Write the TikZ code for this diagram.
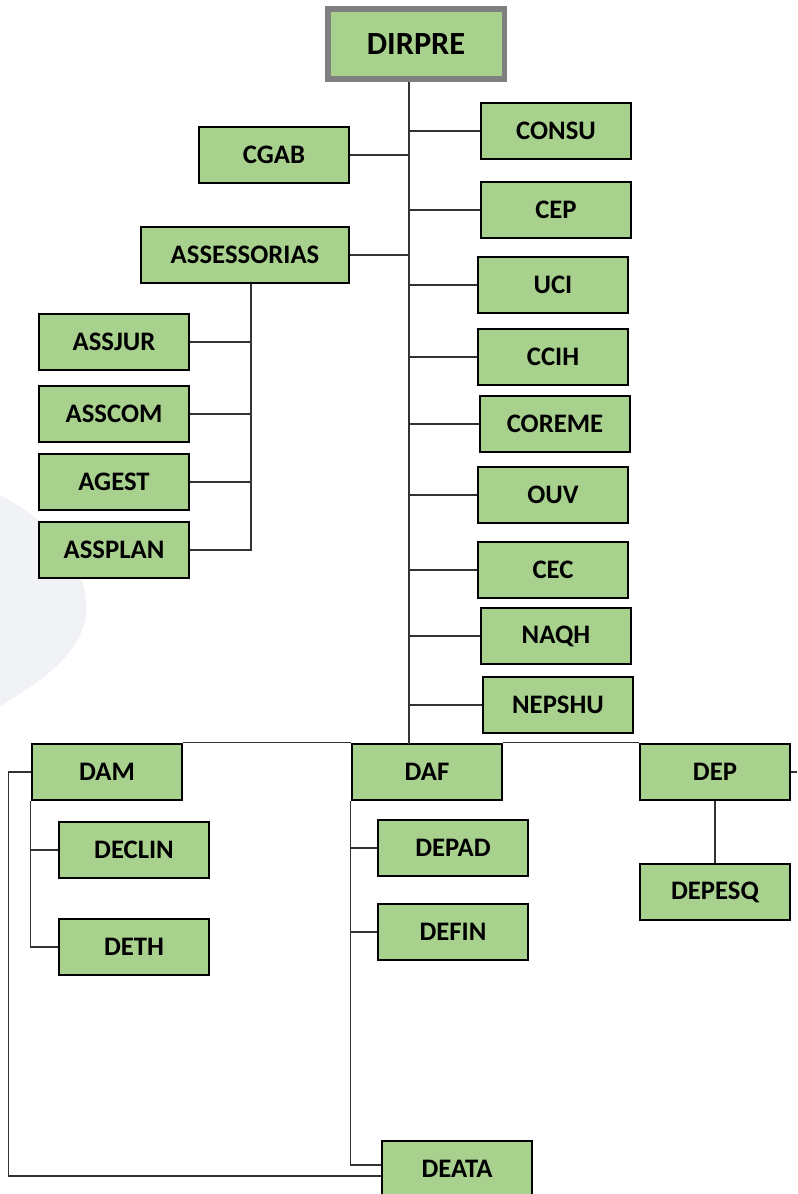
\documentclass[tikz,border=0pt]{standalone}
\usepackage{fontspec}
\setmainfont{Carlito}
\usetikzlibrary{calc}

\definecolor{boxgreen}{HTML}{A9D18E}
\definecolor{blobgray}{HTML}{F1F2F6}

\begin{document}
\begin{tikzpicture}[x=0.025cm, y=-0.025cm,
    unit/.style={draw=black, line width=1.8pt, fill=boxgreen, inner sep=0pt,
      minimum width=3.75cm, minimum height=1.4cm,
      font=\fontsize{19}{22}\selectfont\bfseries},
    link/.style={draw=black!80, line width=0.9pt}]
    \useasboundingbox (0,0) rectangle (797,1194);
    % faint shape in the background
    \fill [blobgray] (0,495) .. controls (55,525) and (88,565) .. (86,612)
      .. controls (84,650) and (45,680) .. (0,706) -- cycle;

    \node [unit, draw=black!50, line width=3.6pt, minimum width=4.4cm,
      minimum height=1.75cm, font=\fontsize{23}{26}\selectfont\bfseries]
      (dirpre) at (416,44) {DIRPRE};
    \coordinate (spine) at (409,82);
    \coordinate (bar) at (409,744);
    \coordinate (edge) at (797,744);

    \node [unit] (cgab) at (274,155) {CGAB};
    \node [unit, minimum width=5.2cm] (assess) at (245,255) {ASSESSORIAS};
    \node [unit] (consu) at (556,131) {CONSU};
    \node [unit] (cep) at (556,210) {CEP};
    \node [unit] (uci) at (553,285) {UCI};
    \node [unit] (ccih) at (553,357) {CCIH};
    \node [unit] (coreme) at (555,424) {COREME};
    \node [unit] (ouv) at (553,495) {OUV};
    \node [unit] (cec) at (553,570) {CEC};
    \node [unit] (naqh) at (556,636) {NAQH};
    \node [unit] (nepshu) at (558,705) {NEPSHU};

    \node [unit] (assjur) at (114,342) {ASSJUR};
    \node [unit] (asscom) at (114,414) {ASSCOM};
    \node [unit] (agest) at (114,482) {AGEST};
    \node [unit] (assplan) at (114,550) {ASSPLAN};
    \coordinate (asub) at (251,283);

    \node [unit] (dam) at (107,772) {DAM};
    \node [unit] (declin) at (134,850) {DECLIN};
    \node [unit] (deth) at (134,947) {DETH};
    \node [unit] (daf) at (427,772) {DAF};
    \node [unit] (depad) at (453,848) {DEPAD};
    \node [unit] (defin) at (453,932) {DEFIN};
    \node [unit] (dep) at (715,772) {DEP};
    \node [unit] (depesq) at (715,892) {DEPESQ};
    \node [unit] (deata) at (457,1169) {DEATA};

    % main line
    \draw [link] (dirpre.south -| spine) -- (bar);
    \foreach \n in {consu,cep,uci,ccih,coreme,ouv,cec,naqh,nepshu}
      \draw [link] (\n.west) -- (\n.west -| spine);
    \foreach \n in {cgab,assess}
      \draw [link] (\n.east) -- (\n.east -| spine);

    % assessorias
    \draw [link] (assess.south -| asub) |- (assplan.east);
    \foreach \n in {assjur,asscom,agest}
      \draw [link] (\n.east) -- (\n.east -| asub);

    % directorates
    \draw [link] (dam.north east) -- (daf.north west);
    \draw [link] (daf.north east) -- (dep.north west);
    \draw [link] (dep.east) -- (dep.east -| edge);
    \draw [link] (dam.south west) |- (deth.west);
    \draw [link] (declin.west) -- (declin.west -| dam.south west);
    \draw [link] (daf.south west) |- ($(deata.west)+(0,-4)$);
    \draw [link] (depad.west) -- (depad.west -| daf.south west);
    \draw [link] (defin.west) -- (defin.west -| daf.south west);
    \draw [link] (dep.south) -- (depesq.north);
    \draw [link] (dam.west) -- ++(-22,0) |- ($(deata.west)+(0,7)$);
    \draw [link] ($(deata.east)+(0,7)$) -- ($(deata.east)+(0,7)$ -| edge);
\end{tikzpicture}
\end{document}
